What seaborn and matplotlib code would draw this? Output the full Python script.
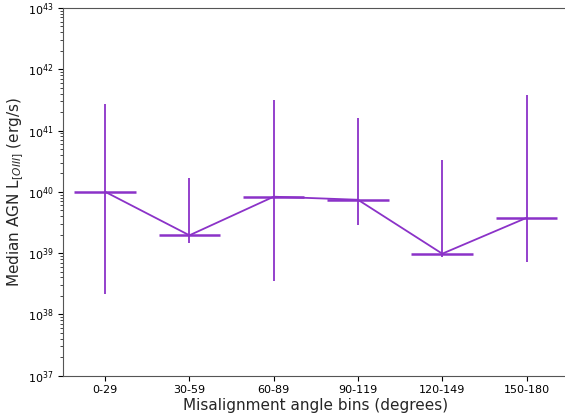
import numpy as np
import matplotlib
matplotlib.use('Agg')
import matplotlib.pyplot as plt
import seaborn as sns

# misalignment angle bins and median AGN L[OIII] (log10 erg/s)
bins = ['0-29', '30-59', '60-89', '90-119', '120-149', '150-180']
log_median = [40.00, 39.29, 39.92, 39.87, 38.99, 39.575]
log_upper = [41.44, 40.22, 41.49, 41.21, 40.52, 41.58]
log_lower = [38.33, 39.17, 38.55, 39.46, 38.93, 38.85]

colour = '#8B32C8'

median = 10 ** np.array(log_median)
upper = 10 ** np.array(log_upper)
lower = 10 ** np.array(log_lower)
x = np.arange(len(bins))

sns.set_style('ticks')
plt.rcParams['font.family'] = ['DejaVu Sans']

fig = plt.figure(figsize=(5.65, 4.19), dpi=100)
ax = fig.add_axes([0.1115, 0.1035, 0.895, 0.8775])

sns.lineplot(x=x, y=median, ax=ax, color=colour, linewidth=1.3)
ax.errorbar(x, median, yerr=[median - lower, upper - median], fmt='none',
            ecolor=colour, elinewidth=1.3)
ax.errorbar(x, median, xerr=0.365, fmt='none', ecolor=colour, elinewidth=1.8)

ax.set_yscale('log')
ax.set_ylim(1e37, 1e43)
ax.set_xlim(-0.5, 5.5)
ax.set_xticks(x)
ax.set_xticklabels(bins)
ax.tick_params(labelsize=8, colors='black')
for s in ax.spines.values():
    s.set_color('#555555')
ax.spines['right'].set_visible(False)
ax.set_xlabel('Misalignment angle bins (degrees)', fontsize=11, labelpad=2)
ax.set_ylabel(r'Median AGN L$_{[OIII]}$ (erg/s)', fontsize=11, labelpad=1)

fig.savefig('out.png', dpi=100)
